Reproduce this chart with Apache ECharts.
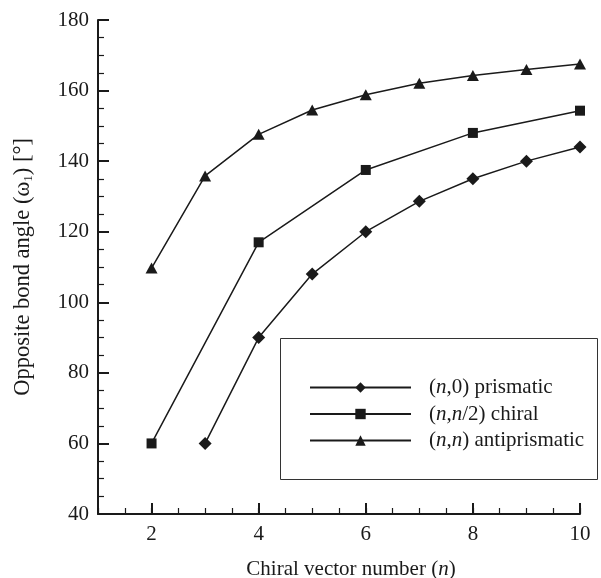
<!DOCTYPE html>
<html>
<head>
<meta charset="utf-8">
<script src="https://cdn.jsdelivr.net/npm/echarts@6/dist/echarts.min.js"></script>
<style>
  html, body { margin: 0; padding: 0; background: #ffffff; }
  #chart { width: 601px; height: 578px; }
</style>
</head>
<body>
<div id="chart"></div>
<script>
// Opposite bond angle versus chiral vector number for three tube families
const prismaticN = [3, 4, 5, 6, 7, 8, 9, 10];
const prismaticAngle = [60, 90, 108, 120, 128.6, 135, 140, 144];

const chiralN = [2, 4, 6, 8, 10];
const chiralAngle = [60, 117, 137.5, 148, 154.3];

const antiprismaticN = [2, 3, 4, 5, 6, 7, 8, 9, 10];
const antiprismaticAngle = [109.7, 135.8, 147.6, 154.5, 158.8, 162.1, 164.3, 166, 167.5];

const xTickValues = [2, 4, 6, 8, 10];
const yTickValues = [40, 60, 80, 100, 120, 140, 160, 180];

const INK = '#1a1a1a';
const FONT = 'Liberation Serif';

function pairs(xs, ys) { return xs.map((x, i) => [x, ys[i]]); }

const legendLabels = {
  prismatic: '{p|(}{i|n}{p|,0) prismatic}',
  chiral: '{p|(}{i|n}{p|,}{i|n}{p|/2) chiral}',
  antiprismatic: '{p|(}{i|n}{p|,}{i|n}{p|) antiprismatic}'
};

const chart = echarts.init(document.getElementById('chart'), null, { renderer: 'canvas' });

const lineSeries = (name, xs, ys, symbol, size) => ({
  name: name,
  type: 'line',
  data: pairs(xs, ys),
  symbol: symbol,
  symbolSize: size,
  showSymbol: true,
  lineStyle: { color: INK, width: 1.5 },
  itemStyle: { color: INK },
  emphasis: { disabled: true },
  z: 3
});

chart.setOption({
  animation: false,
  backgroundColor: '#ffffff',
  grid: { left: 98, right: 21, top: 20, bottom: 64, containLabel: false, outerBoundsMode: 'none' },
  graphic: [{
    type: 'rect',
    shape: { x: 280.5, y: 338.5, width: 317, height: 141 },
    style: { fill: '#ffffff', stroke: '#333333', lineWidth: 1 },
    z: 1
  }],
  legend: {
    orient: 'vertical',
    left: 309,
    top: 377,
    padding: 0,
    itemWidth: 101,
    itemHeight: 13,
    itemGap: 5.5,
    z: 5,
    data: ['prismatic', 'chiral', 'antiprismatic'],
    formatter: (name) => legendLabels[name],
    textStyle: {
      fontFamily: FONT,
      fontSize: 21,
      color: INK,
      padding: [0, 0, 0, 13],
      rich: {
        p: { fontFamily: FONT, fontSize: 21, color: INK },
        i: { fontFamily: FONT, fontSize: 21, color: INK, fontStyle: 'italic' }
      }
    }
  },
  xAxis: [{
    type: 'value',
    min: 1,
    max: 10,
    interval: 0.5,
    position: 'bottom',
    name: 'Chiral vector number ({i|n})',
    nameLocation: 'middle',
    nameGap: 45,
    nameTextStyle: {
      fontFamily: FONT,
      fontSize: 21,
      color: INK,
      padding: [0, 0, 0, 24],
      rich: { i: { fontFamily: FONT, fontSize: 21, color: INK, fontStyle: 'italic' } }
    },
    axisLine: { show: true, onZero: false, lineStyle: { color: INK, width: 2 } },
    axisTick: { show: true, inside: true, length: 11, lineStyle: { color: INK, width: 2 }, customValues: xTickValues },
    axisLabel: { customValues: xTickValues, fontFamily: FONT, fontSize: 21, color: INK, margin: 10 },
    splitLine: { show: false }
  }, {
    // finer tick marks every half step along the bottom edge
    type: 'value',
    min: 1,
    max: 10,
    interval: 0.5,
    position: 'bottom',
    axisLine: { show: false },
    axisTick: { show: true, inside: true, length: 6, lineStyle: { color: INK, width: 1.2 } },
    axisLabel: { show: false },
    splitLine: { show: false }
  }],
  yAxis: {
    type: 'value',
    min: 40,
    max: 180,
    interval: 20,
    name: 'Opposite bond angle (ω{sub|1}) [°]',
    nameLocation: 'middle',
    nameGap: 63,
    nameTextStyle: {
      fontFamily: FONT,
      fontSize: 22.5,
      color: INK,
      rich: { sub: { fontFamily: FONT, fontSize: 13, color: INK, verticalAlign: 'bottom' } }
    },
    axisLine: { show: true, onZero: false, lineStyle: { color: INK, width: 2 } },
    axisTick: { show: true, inside: true, length: 11, lineStyle: { color: INK, width: 2 } },
    minorTick: { show: true, splitNumber: 4, length: 6, lineStyle: { color: INK, width: 1.2 } },
    axisLabel: { fontFamily: FONT, fontSize: 21, color: INK, margin: 9,
      formatter: (v) => (yTickValues.indexOf(v) >= 0 ? String(v) : '') },
    splitLine: { show: false }
  },
  series: [
    lineSeries('prismatic', prismaticN, prismaticAngle, 'diamond', 13),
    lineSeries('chiral', chiralN, chiralAngle, 'rect', 10),
    lineSeries('antiprismatic', antiprismaticN, antiprismaticAngle, 'triangle', [12, 11])
  ]
});
</script>
</body>
</html>
